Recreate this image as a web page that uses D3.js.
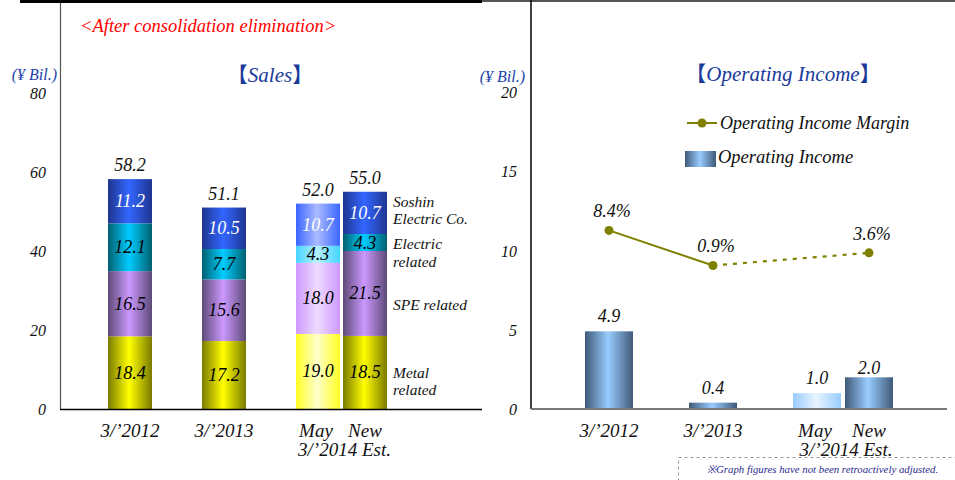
<!DOCTYPE html>
<html>
<head>
<meta charset="utf-8">
<script src="https://cdn.jsdelivr.net/npm/d3@7"></script>
<style>
  html, body { margin: 0; padding: 0; background: #fff; }
  svg { display: block; }
  text { font-family: "Liberation Serif", "Times New Roman", serif; font-style: italic; }
</style>
</head>
<body>
<svg id="chart" width="955" height="480"></svg>
<script>
// ---- data ----
const categories = ["3/\u20192012", "3/\u20192013", "May", "New"];
const slots = [0, 1, 2, 2.5];            // horizontal slot of each bar
const isPlan = [false, false, true, false];
const metal = [18.4, 17.2, 19.0, 18.5];
const spe = [16.5, 15.6, 18.0, 21.5];
const electric = [12.1, 7.7, 4.3, 4.3];
const soshin = [11.2, 10.5, 10.7, 10.7];
const salesTotals = [58.2, 51.1, 52.0, 55.0];
const segmentNames = ["metal", "spe", "electric", "soshin"];
const segmentLabels = [["Metal", "related"], ["SPE related"], ["Electric", "related"], ["Soshin", "Electric Co."]];
const opIncome = [4.9, 0.4, 1.0, 2.0];
const opMargin = [8.4, 0.9, null, 3.6];   // no margin plotted for the May plan
const salesTicks = [0, 20, 40, 60, 80];
const incomeTicks = [0, 5, 10, 15, 20];

const svg = d3.select("#chart");
const defs = svg.append("defs");

// cylinder-style horizontal gradients
function grad(id, edge, mid) {
  const g = defs.append("linearGradient").attr("id", id)
    .attr("x1", "0%").attr("x2", "100%").attr("y1", "0%").attr("y2", "0%");
  g.append("stop").attr("offset", "0%").attr("stop-color", edge);
  g.append("stop").attr("offset", "48%").attr("stop-color", mid);
  g.append("stop").attr("offset", "100%").attr("stop-color", edge);
}
const palette = {
  metal:    { solid: ["#7a7a00", "#ffff00"], plan: ["#ffff22", "#ffffcc"] },
  spe:      { solid: ["#5e4a78", "#cc99ff"], plan: ["#cc99ff", "#eedbff"] },
  electric: { solid: ["#006070", "#00ccff"], plan: ["#44d4ff", "#b5f0ff"] },
  soshin:   { solid: ["#1e3590", "#3366ff"], plan: ["#3a66ff", "#aabbff"] }
};
segmentNames.forEach(k => {
  grad("g-" + k, palette[k].solid[0], palette[k].solid[1]);
  grad("gp-" + k, palette[k].plan[0], palette[k].plan[1]);
});
grad("g-op", "#3f5a78", "#99ccff");
grad("gp-op", "#99ccff", "#e8f4ff");

// ---- frame lines ----
svg.append("rect").attr("x", 20).attr("y", 0).attr("width", 462).attr("height", 3).attr("fill", "#000");
svg.append("rect").attr("x", 482).attr("y", 0).attr("width", 473).attr("height", 2).attr("fill", "#555");

function bracketTitle(x, y, label) {
  const t = svg.append("text").attr("x", x).attr("y", y).attr("text-anchor", "middle")
    .attr("fill", "#1a3a9a").attr("font-size", 21);
  t.append("tspan").attr("font-family", "Noto Sans CJK JP").attr("font-style", "normal").text("\u3010");
  t.append("tspan").text(label);
  t.append("tspan").attr("font-family", "Noto Sans CJK JP").attr("font-style", "normal").text("\u3011");
}

// ================= Sales =================
const yS = d3.scaleLinear().domain([0, 80]).range([409, 93]);
const xS = d3.scaleLinear().domain([0, 1]).range([130, 224]);
const bwS = 44;

svg.append("text").attr("x", 80).attr("y", 32).attr("fill", "#ff0000").attr("font-size", 18.5)
  .text("<After consolidation elimination>");
svg.append("text").attr("x", 57).attr("y", 80).attr("text-anchor", "end").attr("fill", "#2244aa")
  .attr("font-size", 16).text("(\u00a5 Bil.)");
bracketTitle(270, 82, "Sales");

// y axis
svg.append("line").attr("x1", 60.5).attr("x2", 60.5).attr("y1", 3).attr("y2", 409).attr("stroke", "#555").attr("stroke-width", 1.2);
svg.selectAll(".tickS").data(salesTicks).enter().append("text")
  .attr("x", 46).attr("y", d => yS(d) + 6).attr("text-anchor", "end").attr("font-size", 16).attr("fill", "#111")
  .text(d => d);

// stacked bars
const seriesS = { metal, spe, electric, soshin };
const stackRows = categories.map((c, i) => {
  const row = { i };
  segmentNames.forEach(k => row[k] = seriesS[k][i]);
  return row;
});
const stacked = d3.stack().keys(segmentNames)(stackRows);
stacked.forEach(layer => {
  const key = layer.key;
  const g = svg.append("g");
  layer.forEach((d, i) => {
    const x0 = xS(slots[i]) - bwS / 2;
    g.append("rect").attr("x", x0).attr("width", bwS)
      .attr("y", yS(d[1])).attr("height", yS(d[0]) - yS(d[1]))
      .attr("fill", `url(#${isPlan[i] ? "gp-" : "g-"}${key})`);
    g.append("text").attr("x", xS(slots[i])).attr("y", (yS(d[0]) + yS(d[1])) / 2 + 6)
      .attr("text-anchor", "middle").attr("font-size", 18)
      .attr("fill", key === "soshin" ? "#fff" : "#000")
      .text(seriesS[key][i].toFixed(1));
  });
});
// totals
svg.selectAll(".totS").data(salesTotals).enter().append("text")
  .attr("x", (d, i) => xS(slots[i])).attr("y", (d, i) => yS(d3.sum(segmentNames, k => seriesS[k][i])) - 8)
  .attr("text-anchor", "middle").attr("font-size", 18).attr("fill", "#111")
  .text(d => d.toFixed(1));

// segment names beside the last bar (first-line baseline offset from segment middle)
const legendShift = [5.5, 17, 6.5, -6];
stacked.forEach((layer, li) => {
  const d = layer[3];
  const mid = (yS(d[0]) + yS(d[1])) / 2;
  segmentLabels[li].forEach((t, j) => {
    svg.append("text").attr("x", 393).attr("y", mid + legendShift[li] + j * 17.5)
      .attr("font-size", 15.5).attr("fill", "#111").text(t);
  });
});

// x axis
svg.append("line").attr("x1", 60).attr("x2", 482).attr("y1", 409.5).attr("y2", 409.5).attr("stroke", "#000").attr("stroke-width", 1.5);
function xLabels(xf, yTop, size) {
  [0, 1].forEach(i => svg.append("text").attr("x", xf(slots[i])).attr("y", yTop)
    .attr("text-anchor", "middle").attr("font-size", size).attr("fill", "#111").text(categories[i]));
  svg.append("text").attr("x", xf(slots[2]) - 2).attr("y", yTop).attr("text-anchor", "middle")
    .attr("font-size", size).attr("fill", "#111").text(categories[2]);
  svg.append("text").attr("x", xf(slots[3])).attr("y", yTop).attr("text-anchor", "middle")
    .attr("font-size", size).attr("fill", "#111").text(categories[3]);
  svg.append("text").attr("x", (xf(slots[2]) + xf(slots[3])) / 2 + 3).attr("y", yTop + 19)
    .attr("text-anchor", "middle").attr("font-size", size).attr("fill", "#111").text("3/\u20192014 Est.");
}
xLabels(xS, 437, 19);

// ================= Operating income =================
const yO = d3.scaleLinear().domain([0, 20]).range([409, 92]);
const yM = d3.scaleLinear().domain([-30, 38]).range([410, 92]);
const xO = d3.scaleLinear().domain([0, 1]).range([609, 713]);
const bwO = 48;

svg.append("line").attr("x1", 531).attr("x2", 531).attr("y1", 0).attr("y2", 409).attr("stroke", "#000").attr("stroke-width", 1.5);
svg.append("text").attr("x", 525).attr("y", 82).attr("text-anchor", "end").attr("fill", "#2244aa")
  .attr("font-size", 16).text("(\u00a5 Bil.)");
bracketTitle(783, 81, "Operating Income");

svg.selectAll(".tickO").data(incomeTicks).enter().append("text")
  .attr("x", 517).attr("y", d => yO(d) + 6).attr("text-anchor", "end").attr("font-size", 16).attr("fill", "#111")
  .text(d => d);

// bars
opIncome.forEach((v, i) => {
  svg.append("rect").attr("x", xO(slots[i]) - bwO / 2).attr("width", bwO)
    .attr("y", yO(v)).attr("height", yO(0) - yO(v))
    .attr("fill", `url(#${isPlan[i] ? "gp-op" : "g-op"})`);
  svg.append("text").attr("x", xO(slots[i])).attr("y", yO(v) - (i === 3 ? 3 : 9))
    .attr("text-anchor", "middle").attr("font-size", 18).attr("fill", "#111").text(v.toFixed(1));
});
svg.append("line").attr("x1", 531).attr("x2", 947).attr("y1", 409).attr("y2", 409).attr("stroke", "#777").attr("stroke-width", 2);

// margin line: actual results solid, plan dashed
const marginPts = opMargin.map((v, i) => ({ v, i })).filter(d => d.v !== null);
const lineGen = d3.line().x(d => xO(slots[d.i])).y(d => yM(d.v));
svg.append("path").attr("d", lineGen(marginPts.slice(0, 2))).attr("fill", "none")
  .attr("stroke", "#808000").attr("stroke-width", 2);
svg.append("path").attr("d", lineGen(marginPts.slice(1))).attr("fill", "none")
  .attr("stroke", "#808000").attr("stroke-width", 2.2).attr("stroke-dasharray", "4,6");
marginPts.forEach(d => {
  svg.append("circle").attr("cx", xO(slots[d.i])).attr("cy", yM(d.v)).attr("r", 4.5).attr("fill", "#808000");
  svg.append("text").attr("x", xO(slots[d.i]) + 3).attr("y", yM(d.v) - 13).attr("text-anchor", "middle")
    .attr("font-size", 18).attr("fill", "#111").text(d.v.toFixed(1) + "%");
});

// legend
svg.append("line").attr("x1", 687).attr("x2", 717).attr("y1", 123).attr("y2", 123).attr("stroke", "#808000").attr("stroke-width", 2);
svg.append("circle").attr("cx", 702).attr("cy", 123).attr("r", 4.5).attr("fill", "#808000");
svg.append("text").attr("x", 720).attr("y", 129).attr("font-size", 18).attr("fill", "#111").text("Operating Income Margin");
svg.append("rect").attr("x", 685).attr("y", 151).attr("width", 31).attr("height", 16).attr("fill", "url(#g-op)");
svg.append("text").attr("x", 718).attr("y", 163).attr("font-size", 18.5).attr("fill", "#111").text("Operating Income");

xLabels(xO, 437, 19);

// footnote
svg.append("rect").attr("x", 678.5).attr("y", 457.5).attr("width", 290).attr("height", 40)
  .attr("fill", "none").attr("stroke", "#999").attr("stroke-dasharray", "3,3");
svg.append("text").attr("x", 707).attr("y", 473).attr("font-size", 10.8).attr("fill", "#2a2a90")
  .text("\u203bGraph figures have not been retroactively adjusted.");
</script>
</body>
</html>
